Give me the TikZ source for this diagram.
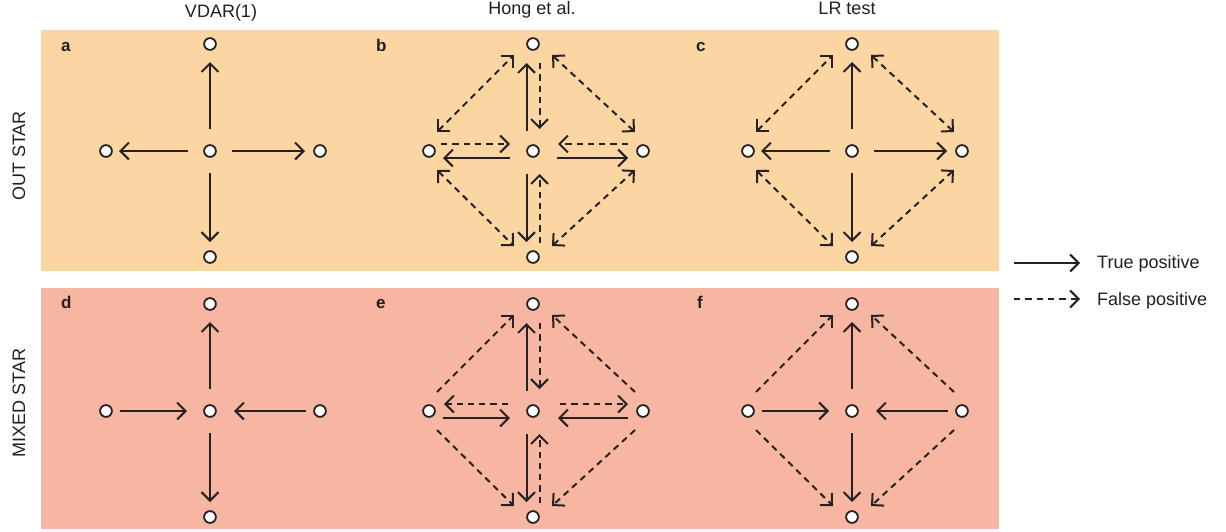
\documentclass[tikz,border=0pt]{standalone}
\usepackage{fontspec}
\setmainfont{Liberation Sans}
\usetikzlibrary{arrows.meta,calc}
\definecolor{outband}{RGB}{252,214,162}
\definecolor{mixband}{RGB}{246,182,162}
\definecolor{ink}{RGB}{38,34,35}
\newcommand{\starnodes}[3]{%
  \node[vtx] (#1c) at ({#2},{#3}) {};
  \node[vtx] (#1t) at ({#2},{#3-107}) {};
  \node[vtx] (#1b) at ({#2},{#3+106}) {};
  \node[vtx] (#1l) at ({#2-104},{#3}) {};
  \node[vtx] (#1r) at ({#2+110},{#3}) {};
}
\newcommand{\conn}[6]{\draw[#1, shorten <=#5pt, shorten >=#6pt] ($(#2.center)+(#4)$) -- ($(#3.center)+(#4)$);}
\newcommand{\diags}[2]{%
  \draw[#2] ($(#1l.center)+(8,-19)$) -- ($(#1t.center)+(-19,11)$);
  \draw[#2] ($(#1r.center)+(-8,-19)$) -- ($(#1t.center)+(19,11)$);
  \draw[#2] ($(#1l.center)+(8,19)$) -- ($(#1b.center)+(-19,-11)$);
  \draw[#2] ($(#1r.center)+(-8,19)$) -- ($(#1b.center)+(19,-11)$);
}
\tikzset{
  >={Straight Barb[length=8.5pt,width=17pt]},
  vtx/.style={circle, draw=ink, fill=white, line width=1.8pt, minimum size=11.8pt, inner sep=0pt},
  tp/.style={draw=ink, line width=2pt, ->},
  fp/.style={tp, dash pattern=on 6.3pt off 5pt},
  fpb/.style={fp, <->},
  lbl/.style={font=\fontsize{18}{21}\selectfont, text=black!88, inner sep=0pt},
  let/.style={font=\fontsize{17}{20}\selectfont\bfseries, text=black!88, inner sep=0pt},
}
\begin{document}
\begin{tikzpicture}[x=1pt,y=-1pt]
\useasboundingbox (0,0) rectangle (1226,531);
\fill[outband] (41,30) rectangle (999,271);
\fill[mixband] (41,288) rectangle (999,529);
% titles
\node[lbl, anchor=base] (h1) at (221,17) {VDAR(1)};
\node[lbl, anchor=base] (h2) at (532,14.5) {Hong et al.};
\node[lbl, anchor=base] (h3) at (847,14.5) {LR test};
\node[lbl, rotate=90, anchor=base] (r1) at (25,156) {OUT STAR};
\node[lbl, rotate=90, anchor=base] (r2) at (25,403) {MIXED STAR};
% panel letters
\node[let, anchor=base west] (la) at (61,51) {a};
\node[let, anchor=base west] (lb) at (376,51) {b};
\node[let, anchor=base west] (lc) at (696,51) {c};
\node[let, anchor=base west] (ld) at (61,308) {d};
\node[let, anchor=base west] (le) at (376,308) {e};
\node[let, anchor=base west] (lf) at (697,308) {f};
% nodes
\starnodes{A}{210}{151}
\starnodes{B}{533}{151}
\starnodes{C}{852}{151}
\starnodes{D}{210}{411}
\starnodes{E}{533}{411}
\starnodes{F}{852}{411}
% panel a
\conn{tp}{Ac}{At}{0,0}{22}{18}
\conn{tp}{Ac}{Ab}{0,0}{22}{15}
\conn{tp}{Ac}{Al}{0,0}{22}{13}
\conn{tp}{Ac}{Ar}{0,0}{22}{15}
% panel b
\conn{tp}{Bc}{Bt}{-6.5,0}{20}{19}
\conn{fp}{Bt}{Bc}{6.5,0}{19}{22}
\conn{tp}{Bc}{Bb}{-6.5,0}{23}{15}
\conn{fp}{Bb}{Bc}{6.5,0}{14}{23}
\conn{fp}{Bl}{Bc}{0,-7}{12}{23}
\conn{tp}{Bc}{Bl}{0,7}{23}{14}
\conn{fp}{Br}{Bc}{0,-7}{15}{25}
\conn{tp}{Bc}{Br}{0,7}{24}{15}
\diags{B}{fpb}
% panel c
\conn{tp}{Cc}{Ct}{0,0}{22}{18}
\conn{tp}{Cc}{Cb}{0,0}{22}{15}
\conn{tp}{Cc}{Cl}{0,0}{22}{13}
\conn{tp}{Cc}{Cr}{0,0}{22}{15}
\diags{C}{fpb}
% panel d
\conn{tp}{Dc}{Dt}{0,0}{22}{18}
\conn{tp}{Dc}{Db}{0,0}{22}{15}
\conn{tp}{Dl}{Dc}{0,0}{14}{23}
\conn{tp}{Dr}{Dc}{0,0}{14}{24}
% panel e
\conn{tp}{Ec}{Et}{-6.5,0}{20}{19}
\conn{fp}{Et}{Ec}{6.5,0}{19}{22}
\conn{tp}{Ec}{Eb}{-6.5,0}{23}{15}
\conn{fp}{Eb}{Ec}{6.5,0}{14}{23}
\conn{fp}{Ec}{El}{0,-7}{25}{15}
\conn{tp}{El}{Ec}{0,7}{14}{23}
\conn{fp}{Ec}{Er}{0,-7}{27}{15}
\conn{tp}{Er}{Ec}{0,7}{15}{25}
\diags{E}{fp}
% panel f
\conn{tp}{Fc}{Ft}{0,0}{22}{18}
\conn{tp}{Fc}{Fb}{0,0}{22}{15}
\conn{tp}{Fl}{Fc}{0,0}{14}{23}
\conn{tp}{Fr}{Fc}{0,0}{14}{24}
\diags{F}{fp}
% legend
\coordinate (g1s) at (1014,263);
\coordinate (g1e) at (1080,263);
\coordinate (g2s) at (1014,299);
\coordinate (g2e) at (1080,299);
\draw[tp] (g1s) -- (g1e);
\draw[fp] (g2s) -- (g2e);
\node[lbl, anchor=base west] (t1) at (1097,268) {True positive};
\node[lbl, anchor=base west] (t2) at (1097,305) {False positive};
\end{tikzpicture}
\end{document}
